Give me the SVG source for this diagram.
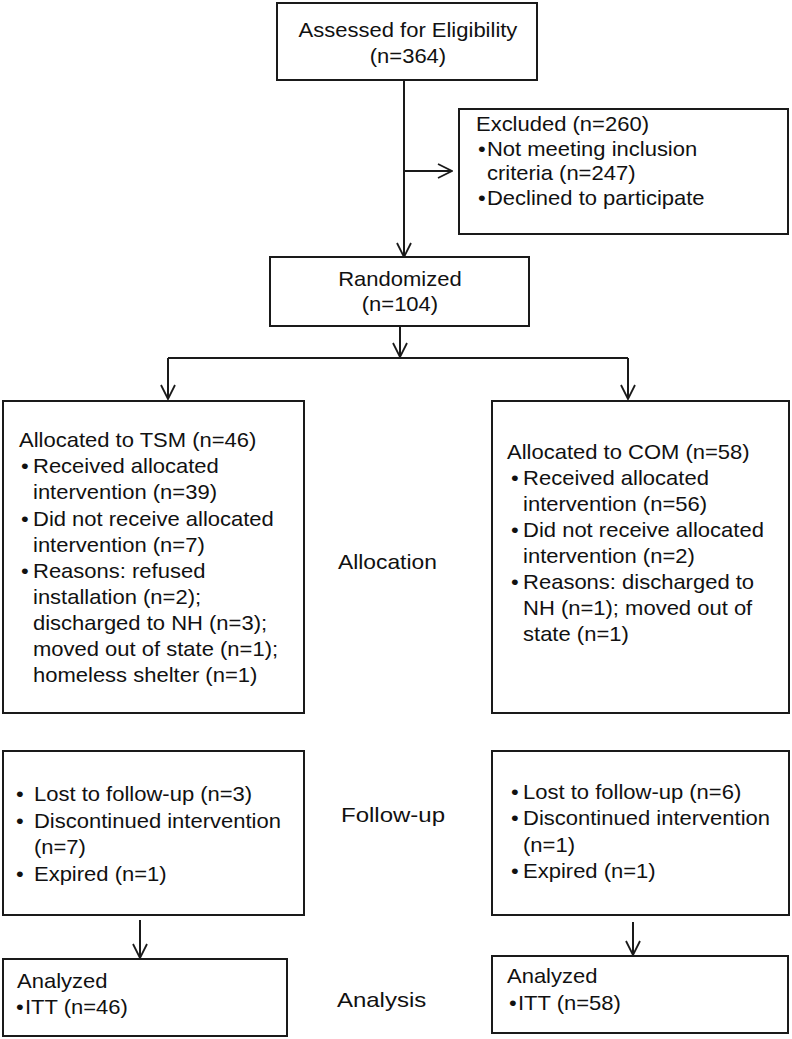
<svg xmlns="http://www.w3.org/2000/svg" width="792" height="1039" viewBox="0 0 792 1039">
<defs>
<marker id="arr" markerUnits="userSpaceOnUse" viewBox="0 0 16 16" markerWidth="16" markerHeight="16" refX="15" refY="8" orient="auto">
<path d="M1,1 L15,8 L1,15" fill="none" stroke="#1a1a1a" stroke-width="1.8"/>
</marker>
<style>
rect{fill:#fff;stroke:#1a1a1a;stroke-width:2}
.c line,.c path{fill:none;stroke:#1a1a1a;stroke-width:2}
text{font-family:"Liberation Sans",Arial,sans-serif;font-size:20px;fill:#111}
.m{text-anchor:middle}
</style>
</defs>
<rect x="0" y="0" width="792" height="1039" style="stroke:none"/>
<g class="c" id="connectors">
<line x1="404" y1="80" x2="404" y2="257" marker-end="url(#arr)"/>
<line x1="404" y1="171" x2="452" y2="171" marker-end="url(#arr)"/>
<line x1="400" y1="326" x2="400" y2="357" marker-end="url(#arr)"/>
<path d="M168,358 H628"/>
<line x1="168" y1="358" x2="168" y2="399" marker-end="url(#arr)"/>
<line x1="628" y1="358" x2="628" y2="399" marker-end="url(#arr)"/>
<line x1="140" y1="920" x2="140" y2="958" marker-end="url(#arr)"/>
<line x1="633" y1="922" x2="633" y2="955" marker-end="url(#arr)"/>
</g>
<g id="assessed">
<rect x="277" y="3" width="260" height="77"/>
<text transform="scale(1.1 1)" class="m"><tspan x="370.9" y="37">Assessed for Eligibility</tspan><tspan x="370.9" y="63">(n=364)</tspan></text>
</g>
<g id="excluded">
<rect x="459" y="109" width="329" height="125"/>
<text transform="scale(1.1 1)"><tspan x="432.7" y="131">Excluded (n=260)</tspan><tspan x="434.5" y="156">•</tspan><tspan x="442.7" y="156">Not meeting inclusion</tspan><tspan x="442.7" y="180">criteria (n=247)</tspan><tspan x="434.5" y="205">•</tspan><tspan x="442.7" y="205">Declined to participate</tspan></text>
</g>
<g id="randomized">
<rect x="270" y="257" width="259" height="69"/>
<text transform="scale(1.1 1)" class="m"><tspan x="363.6" y="286">Randomized</tspan><tspan x="363.6" y="311">(n=104)</tspan></text>
</g>
<g id="alloc-tsm">
<rect x="3" y="401" width="301" height="312"/>
<text transform="scale(1.1 1)"><tspan x="17.3" y="447">Allocated to TSM (n=46)</tspan><tspan x="19.1" y="473">•</tspan><tspan x="30" y="473">Received allocated</tspan><tspan x="30" y="499">intervention (n=39)</tspan><tspan x="19.1" y="526">•</tspan><tspan x="30" y="526">Did not receive allocated</tspan><tspan x="30" y="552">intervention (n=7)</tspan><tspan x="19.1" y="578">•</tspan><tspan x="30" y="578">Reasons: refused</tspan><tspan x="30" y="604">installation (n=2);</tspan><tspan x="30" y="630">discharged to NH (n=3);</tspan><tspan x="30" y="656">moved out of state (n=1);</tspan><tspan x="30" y="682">homeless shelter (n=1)</tspan></text>
</g>
<g id="alloc-com">
<rect x="492" y="401" width="297" height="312"/>
<text transform="scale(1.1 1)"><tspan x="460.9" y="459">Allocated to COM (n=58)</tspan><tspan x="464.5" y="485">•</tspan><tspan x="475.5" y="485">Received allocated</tspan><tspan x="475.5" y="511">intervention (n=56)</tspan><tspan x="464.5" y="537">•</tspan><tspan x="475.5" y="537">Did not receive allocated</tspan><tspan x="475.5" y="563">intervention (n=2)</tspan><tspan x="464.5" y="589">•</tspan><tspan x="475.5" y="589">Reasons: discharged to</tspan><tspan x="475.5" y="615">NH (n=1); moved out of</tspan><tspan x="475.5" y="641">state (n=1)</tspan></text>
</g>
<g id="label-allocation">
<text transform="scale(1.14 1)" x="296.5" y="569">Allocation</text>
</g>
<g id="followup-tsm">
<rect x="3" y="751" width="301" height="164"/>
<text transform="scale(1.1 1)"><tspan x="14.5" y="801">•</tspan><tspan x="30.9" y="801">Lost to follow-up (n=3)</tspan><tspan x="14.5" y="828">•</tspan><tspan x="30.9" y="828">Discontinued intervention</tspan><tspan x="30.9" y="854">(n=7)</tspan><tspan x="14.5" y="881">•</tspan><tspan x="30.9" y="881">Expired (n=1)</tspan></text>
</g>
<g id="followup-com">
<rect x="492" y="751" width="297" height="164"/>
<text transform="scale(1.1 1)"><tspan x="464.5" y="799">•</tspan><tspan x="475.5" y="799">Lost to follow-up (n=6)</tspan><tspan x="464.5" y="825">•</tspan><tspan x="475.5" y="825">Discontinued intervention</tspan><tspan x="475.5" y="852">(n=1)</tspan><tspan x="464.5" y="878">•</tspan><tspan x="475.5" y="878">Expired (n=1)</tspan></text>
</g>
<g id="label-followup">
<text transform="scale(1.2 1)" x="284.2" y="822">Follow-up</text>
</g>
<g id="analyzed-tsm">
<rect x="3" y="959" width="284" height="77"/>
<text transform="scale(1.1 1)"><tspan x="15.5" y="988">Analyzed</tspan><tspan x="14.5" y="1014">•</tspan><tspan x="22.7" y="1014">ITT (n=46)</tspan></text>
</g>
<g id="analyzed-com">
<rect x="492" y="956" width="296" height="77"/>
<text transform="scale(1.1 1)"><tspan x="460.9" y="983">Analyzed</tspan><tspan x="462.7" y="1010">•</tspan><tspan x="470.9" y="1010">ITT (n=58)</tspan></text>
</g>
<g id="label-analysis">
<text transform="scale(1.2 1)" x="280.8" y="1007">Analysis</text>
</g>
</svg>
